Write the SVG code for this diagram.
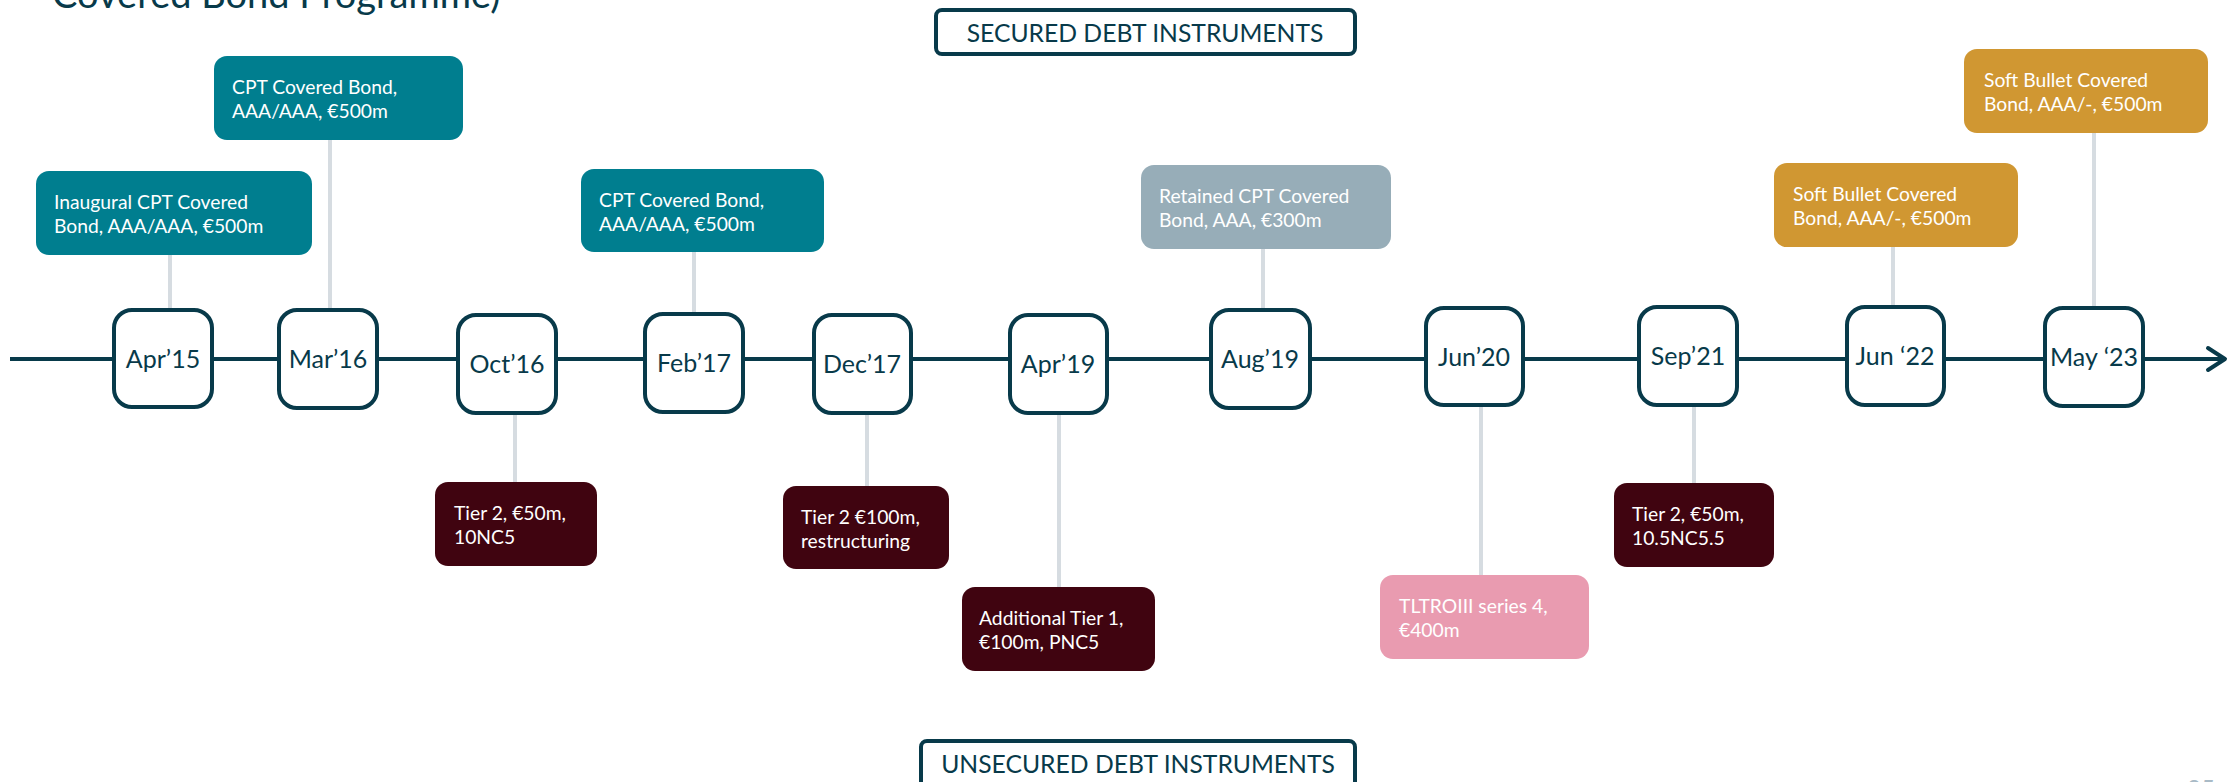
<svg xmlns="http://www.w3.org/2000/svg" width="2228" height="782" viewBox="0 0 2228 782">
<style>
text{font-family:Lato,"Liberation Sans",sans-serif}
.date rect{fill:#fff;stroke:#083a4a;stroke-width:4}
.date text{font-size:25px;fill:#083a4a;text-anchor:middle}
.card text{font-size:19.3px;fill:#fff}
.teal{fill:#007e8f}
.grey{fill:#97adb8}
.gold{fill:#d09732}
.maroon{fill:#400410}
.pink{fill:#e99bb0}
.conn line{stroke:#d6dce1;stroke-width:4}
.head rect{fill:#fff;stroke:#083a4a;stroke-width:4}
.head text{font-size:24.7px;fill:#083a4a;text-anchor:middle}
</style>
<text x="52" y="8" style="font-size:38px;fill:#083a4a">Covered Bond Programme)</text>
<text x="2187" y="797" style="font-size:24px;fill:#a9bac6">25</text>

<g id="connectors" class="conn">
<line x1="170" y1="255" x2="170" y2="308"/>
<line x1="330" y1="140" x2="330" y2="308"/>
<line x1="694" y1="252" x2="694" y2="312"/>
<line x1="1263" y1="249" x2="1263" y2="308"/>
<line x1="1893" y1="247" x2="1893" y2="305"/>
<line x1="2094" y1="133" x2="2094" y2="306"/>
<line x1="515" y1="415" x2="515" y2="482"/>
<line x1="867" y1="415" x2="867" y2="486"/>
<line x1="1059" y1="415" x2="1059" y2="587"/>
<line x1="1481" y1="407" x2="1481" y2="575"/>
<line x1="1694" y1="407" x2="1694" y2="483"/>
</g>

<g id="timeline">
<line x1="10" y1="359" x2="2224" y2="359" stroke="#083a4a" stroke-width="4"/>
<polyline points="2208,348 2225,359 2208,370" fill="none" stroke="#083a4a" stroke-width="4" stroke-linecap="round" stroke-linejoin="round"/>
</g>

<g id="secured-label" class="head">
<rect x="936" y="10" width="419" height="44" rx="6"/>
<text x="1145" y="42">SECURED DEBT INSTRUMENTS</text>
</g>
<g id="unsecured-label" class="head">
<rect x="921" y="741" width="434" height="60" rx="6"/>
<text x="1138" y="773">UNSECURED DEBT INSTRUMENTS</text>
</g>

<g id="d-apr15" class="date"><rect x="114" y="310" width="98" height="97" rx="18"/><text x="163" y="368">Apr’15</text></g>
<g id="d-mar16" class="date"><rect x="279" y="310" width="98" height="98" rx="18"/><text x="328" y="368">Mar’16</text></g>
<g id="d-oct16" class="date"><rect x="458" y="315" width="98" height="98" rx="18"/><text x="507" y="373">Oct’16</text></g>
<g id="d-feb17" class="date"><rect x="645" y="314" width="98" height="98" rx="18"/><text x="694" y="372">Feb’17</text></g>
<g id="d-dec17" class="date"><rect x="814" y="315" width="97" height="98" rx="18"/><text x="862" y="373">Dec’17</text></g>
<g id="d-apr19" class="date"><rect x="1010" y="315" width="97" height="98" rx="18"/><text x="1058" y="373">Apr’19</text></g>
<g id="d-aug19" class="date"><rect x="1211" y="310" width="99" height="98" rx="18"/><text x="1260" y="368">Aug’19</text></g>
<g id="d-jun20" class="date"><rect x="1426" y="308" width="97" height="97" rx="18"/><text x="1474" y="366">Jun’20</text></g>
<g id="d-sep21" class="date"><rect x="1639" y="307" width="98" height="98" rx="18"/><text x="1688" y="365">Sep’21</text></g>
<g id="d-jun22" class="date"><rect x="1847" y="307" width="97" height="98" rx="18"/><text x="1895" y="365">Jun ‘22</text></g>
<g id="d-may23" class="date"><rect x="2045" y="308" width="98" height="98" rx="18"/><text x="2094" y="366">May ‘23</text></g>

<g id="c-inaugural" class="card"><rect class="teal" x="36" y="171" width="276" height="84" rx="13"/><text x="54" y="209">Inaugural CPT Covered</text><text x="54" y="233">Bond, AAA/AAA, €500m</text></g>
<g id="c-cpt16" class="card"><rect class="teal" x="214" y="56" width="249" height="84" rx="13"/><text x="232" y="94">CPT Covered Bond,</text><text x="232" y="118">AAA/AAA, €500m</text></g>
<g id="c-cpt17" class="card"><rect class="teal" x="581" y="169" width="243" height="83" rx="13"/><text x="599" y="207">CPT Covered Bond,</text><text x="599" y="231">AAA/AAA, €500m</text></g>
<g id="c-retained" class="card"><rect class="grey" x="1141" y="165" width="250" height="84" rx="13"/><text x="1159" y="203">Retained CPT Covered</text><text x="1159" y="227">Bond, AAA, €300m</text></g>
<g id="c-soft22" class="card"><rect class="gold" x="1774" y="163" width="244" height="84" rx="13"/><text x="1793" y="201">Soft Bullet Covered</text><text x="1793" y="225">Bond, AAA/-, €500m</text></g>
<g id="c-soft23" class="card"><rect class="gold" x="1964" y="49" width="244" height="84" rx="13"/><text x="1984" y="87">Soft Bullet Covered</text><text x="1984" y="111">Bond, AAA/-, €500m</text></g>
<g id="c-tier2-16" class="card"><rect class="maroon" x="435" y="482" width="162" height="84" rx="13"/><text x="454" y="520">Tier 2, €50m,</text><text x="454" y="544">10NC5</text></g>
<g id="c-tier2-17" class="card"><rect class="maroon" x="783" y="486" width="166" height="83" rx="13"/><text x="801" y="524">Tier 2 €100m,</text><text x="801" y="548">restructuring</text></g>
<g id="c-at1" class="card"><rect class="maroon" x="962" y="587" width="193" height="84" rx="13"/><text x="979" y="625">Additional Tier 1,</text><text x="979" y="649">€100m, PNC5</text></g>
<g id="c-tltro" class="card"><rect class="pink" x="1380" y="575" width="209" height="84" rx="13"/><text x="1399" y="613">TLTROIII series 4,</text><text x="1399" y="637">€400m</text></g>
<g id="c-tier2-21" class="card"><rect class="maroon" x="1614" y="483" width="160" height="84" rx="13"/><text x="1632" y="521">Tier 2, €50m,</text><text x="1632" y="545">10.5NC5.5</text></g>
</svg>
